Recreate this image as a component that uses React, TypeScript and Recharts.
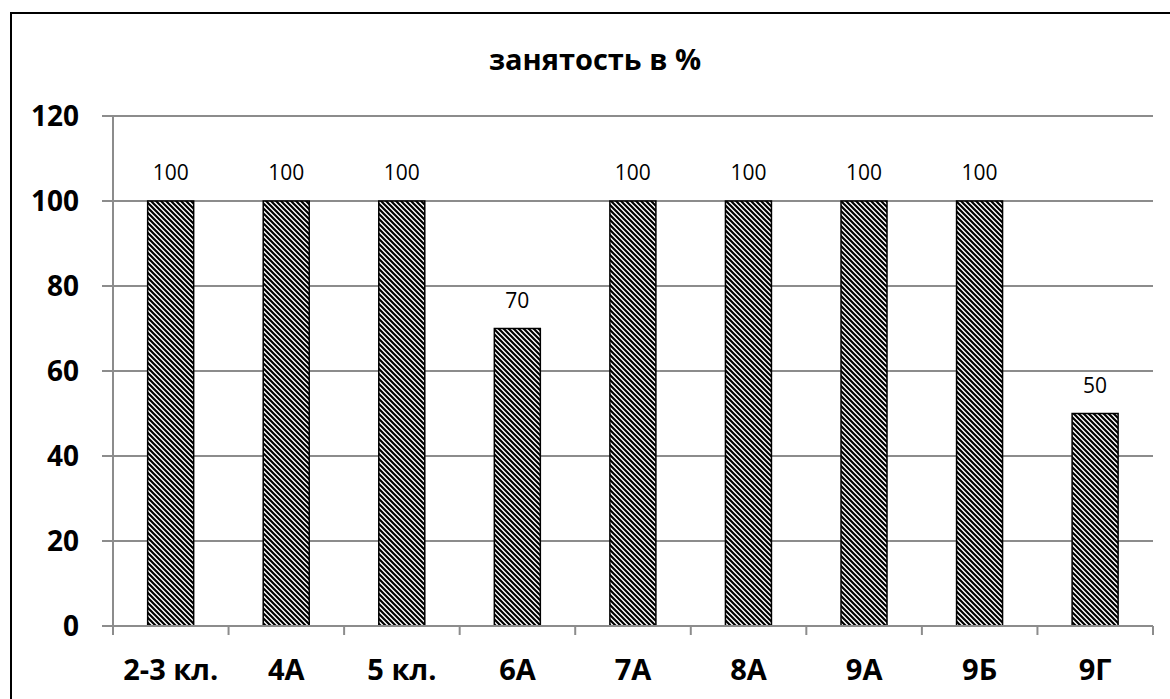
import React from 'react';
import { BarChart, Bar, XAxis, YAxis, CartesianGrid, LabelList } from 'recharts';

const categories = ['2-3 кл.', '4А', '5 кл.', '6А', '7А', '8А', '9А', '9Б', '9Г'];
const values = [100, 100, 100, 70, 100, 100, 100, 100, 50];
const yTicks = [0, 20, 40, 60, 80, 100, 120];
const title = 'занятость в %';

const data = categories.map((c, i) => ({ name: c, value: values[i] }));

const FONT = '"Open Sans", "Noto Sans", sans-serif';
const GRID = '#8c8c8c';

const CatTick = (props: any) => {
  const { x, y, payload, index } = props;
  const off = payload && typeof payload.offset === 'number' ? payload.offset : 1040 / 9 / 2;
  const axisY = y - 8;
  const isLast = index === categories.length - 1;
  return (
    <g>
      <line x1={x - off} x2={x - off} y1={axisY} y2={axisY + 9} stroke={GRID} strokeWidth={2} />
      {isLast && <line x1={x + off} x2={x + off} y1={axisY} y2={axisY + 9} stroke={GRID} strokeWidth={2} />}
      <text x={x} y={axisY + 54} textAnchor="middle" fontFamily={FONT} fontWeight={700} fontSize={29} fill="#000">
        {payload.value}
      </text>
    </g>
  );
};

export default function App() {
  return (
    <div style={{ position: 'absolute', left: 0, top: 0, width: 1170, height: 699, background: '#fff', overflow: 'hidden' }}>
      <div style={{ position: 'absolute', left: 10, top: 12, width: 1200, height: 720, border: '2px solid #000', boxSizing: 'border-box' }} />
      <div style={{ position: 'absolute', left: 0, top: 38, width: 1190, textAlign: 'center', fontFamily: FONT, fontWeight: 700, fontSize: 29, color: '#000', lineHeight: '42px' }}>
        {title}
      </div>
      <div style={{ position: 'absolute', left: 0, top: 0 }}>
        <BarChart width={1170} height={699} data={data} margin={{ top: 116, right: 17, bottom: 0, left: 0 }} barCategoryGap="30%">
          <defs>
            <pattern id="hatch" patternUnits="userSpaceOnUse" width={5} height={5}>
              <rect width={5} height={5} fill="#fff" />
              <path d="M-1,-1 L6,6 M-1,4 L1,6 M4,-1 L6,1" stroke="#000" strokeWidth={2.2} />
            </pattern>
          </defs>
          <CartesianGrid vertical={false} stroke={GRID} strokeWidth={2} />
          <XAxis
            dataKey="name"
            height={73}
            axisLine={{ stroke: GRID, strokeWidth: 2 }}
            tickLine={{ stroke: 'none' }}
            tickSize={8}
            tickMargin={0}
            interval={0}
            tick={<CatTick />}
          />
          <YAxis
            width={113}
            domain={[0, 120]}
            ticks={yTicks}
            interval={0}
            axisLine={{ stroke: GRID, strokeWidth: 2 }}
            tickLine={{ stroke: GRID, strokeWidth: 2 }}
            tickSize={11}
            tickMargin={23}
            tick={{ fontFamily: FONT, fontWeight: 700, fontSize: 28, fill: '#000' }}
          />
          <Bar dataKey="value" fill="url(#hatch)" stroke="#000" strokeWidth={1.5} isAnimationActive={false}>
            <LabelList dataKey="value" position="top" offset={21} style={{ fontFamily: FONT, fontSize: 21, fill: '#000' }} />
          </Bar>
        </BarChart>
      </div>
    </div>
  );
}
